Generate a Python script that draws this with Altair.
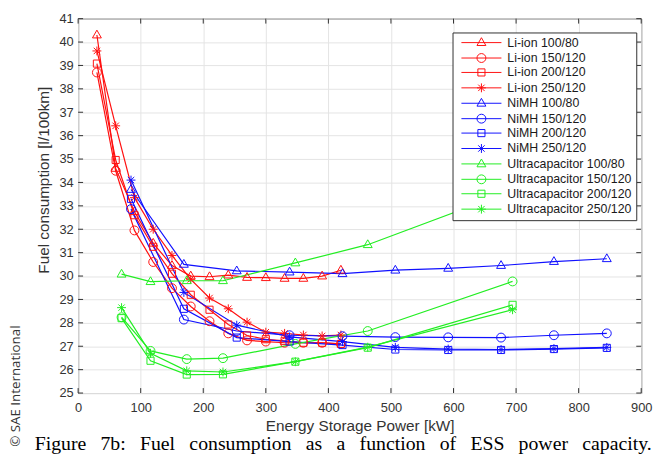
import altair as alt
import pandas as pd

# ---------------- data ----------------
series_names = [
    "Li-ion 100/80", "Li-ion 150/120", "Li-ion 200/120", "Li-ion 250/120",
    "NiMH 100/80", "NiMH 150/120", "NiMH 200/120", "NiMH 250/120",
    "Ultracapacitor 100/80", "Ultracapacitor 150/120", "Ultracapacitor 200/120", "Ultracapacitor 250/120",
]

li_x = [30, 60, 90, 120, 150, 180, 210, 240, 270, 300, 330, 360, 390, 420]
li_100_80 = [40.3, 34.6, 32.75, 31.4, 30.45, 30.0, 29.97, 30.04, 29.94, 29.93, 29.9, 29.9, 30.0, 30.25]
li_150_120 = [38.7, 34.5, 31.95, 30.6, 29.48, 28.7, 28.07, 27.55, 27.25, 27.2, 27.15, 27.15, 27.15, 27.1]
li_200_120 = [39.08, 34.96, 32.6, 31.25, 30.1, 29.2, 28.56, 27.93, 27.46, 27.3, 27.23, 27.15, 27.15, 27.1]
li_250_120 = [39.62, 36.42, 33.35, 32.0, 30.88, 29.86, 29.06, 28.6, 28.03, 27.6, 27.55, 27.48, 27.44, 27.48]

nimh_x = [84.5, 169, 253.5, 338, 422.5, 507, 591.5, 676, 760.5, 845]
nimh_100_80 = [33.7, 30.5, 30.22, 30.17, 30.1, 30.25, 30.33, 30.45, 30.62, 30.74]
nimh_150_120 = [32.86, 28.14, 27.65, 27.47, 27.43, 27.39, 27.38, 27.37, 27.47, 27.55]
nimh_200_120 = [33.3, 28.6, 27.37, 27.2, 27.05, 26.86, 26.84, 26.84, 26.88, 26.93]
nimh_250_120 = [34.1, 29.3, 27.9, 27.4, 27.2, 26.95, 26.88, 26.86, 26.9, 26.95]

uc_x = [69.4, 115.7, 173.6, 231.5, 347.2, 462.9, 694.4]
uc_100_80 = [30.08, 29.76, 29.8, 29.8, 30.56, 31.34, 33.65]
uc_150_120 = [28.24, 26.8, 26.45, 26.49, 27.1, 27.65, 29.77]
uc_200_120 = [28.2, 26.38, 25.79, 25.8, 26.34, 26.94, 28.77]
uc_250_120 = [28.65, 26.7, 25.95, 25.9, 26.34, 26.96, 28.56]

x_ticks = [0, 100, 200, 300, 400, 500, 600, 700, 800, 900]
y_ticks = list(range(25, 42))

caption_words = ["Figure", "7b:", "Fuel", "consumption", "as", "a", "function",
                 "of", "ESS", "power", "capacity."]

# ---------------- build table ----------------
groups = [
    (li_x, [li_100_80, li_150_120, li_200_120, li_250_120]),
    (nimh_x, [nimh_100_80, nimh_150_120, nimh_200_120, nimh_250_120]),
    (uc_x, [uc_100_80, uc_150_120, uc_200_120, uc_250_120]),
]
rows = []
k = 0
for xs, sets in groups:
    for ys in sets:
        for xv, yv in zip(xs, ys):
            rows.append({"series": series_names[k], "kW": xv, "val": yv})
        k += 1
df = pd.DataFrame(rows)

# ---------------- styles ----------------
RED, BLUE, GREEN = "#ff1010", "#1010ff", "#22ee22"
series_colors = [RED] * 4 + [BLUE] * 4 + [GREEN] * 4

TRI = "M0,-1.1L1,0.65L-1,0.65Z"
CIR = "M1,0A1,1,0,1,1,-1,0A1,1,0,1,1,1,0Z"
SQR = "M-0.8,-0.8L0.8,-0.8L0.8,0.8L-0.8,0.8Z"
STAR = "M0,-1L0,1M-1,0L1,0M-0.72,-0.72L0.72,0.72M-0.72,0.72L0.72,-0.72"
markers = [TRI, CIR, SQR, STAR] * 3
LINE = "M-4.5,0L4.5,0"
legend_markers = [LINE + m for m in markers]

FRAME = "#303030"
W, H = 570, 379

x_scale = alt.Scale(domain=[0, 900], nice=False, zero=False)
y_scale = alt.Scale(domain=[25, 41], nice=False, zero=False)
x_axis = alt.Axis(values=x_ticks, title="Energy Storage Power [kW]", grid=True,
                  ticks=False, domain=False, labelPadding=9, titlePadding=4,
                  labelFlush=False)
y_axis = alt.Axis(values=y_ticks, title="Fuel consumption [l/100km]", grid=True,
                  ticks=False, domain=False, labelPadding=5,
                  titleAngle=270, titleX=-35, titleY=163,
                  titleAlign="center", titleBaseline="middle", labelFlush=False)

X = alt.X("kW:Q", scale=x_scale, axis=x_axis)
Y = alt.Y("val:Q", scale=y_scale, axis=y_axis)
color_scale = alt.Scale(domain=series_names, range=series_colors)

lines = alt.Chart(df).mark_line(strokeWidth=1.2).encode(
    x=X, y=Y,
    color=alt.Color("series:N", scale=color_scale, legend=None),
)

points = alt.Chart(df).mark_point(filled=False, size=81, strokeWidth=1, opacity=1).encode(
    x=X, y=Y,
    color=alt.Color("series:N", scale=color_scale, legend=None),
    shape=alt.Shape("series:N", scale=alt.Scale(domain=series_names, range=markers), legend=None),
)

leg = alt.Legend(title=None, orient="none", legendX=379, legendY=14,
                 padding=4, fillColor="white", strokeColor=FRAME,
                 rowPadding=1.6, symbolOffset=19, labelOffset=20,
                 symbolSize=81, symbolStrokeWidth=1,
                 labelFont="Liberation Sans", labelFontSize=12.5, labelColor="#1a1a1a",
                 labelLimit=300)
legend_layer = alt.Chart(df).transform_filter("false").mark_point(
    filled=False, size=81, strokeWidth=1, opacity=1).encode(
    x=X, y=Y,
    color=alt.Color("series:N", scale=color_scale, legend=leg),
    shape=alt.Shape("series:N", scale=alt.Scale(domain=series_names, range=legend_markers), legend=leg),
)

# inward ticks on all four sides (through the scales)
xt = pd.DataFrame({"kW": x_ticks})
yt = pd.DataFrame({"val": y_ticks})
tick_len = 5
bottom_t = alt.Chart(xt).mark_rule(color=FRAME, strokeWidth=1).encode(
    x=X, y=alt.value(H), y2=alt.value(H - tick_len))
top_t = alt.Chart(xt).mark_rule(color=FRAME, strokeWidth=1).encode(
    x=X, y=alt.value(0), y2=alt.value(tick_len))
left_t = alt.Chart(yt).mark_rule(color=FRAME, strokeWidth=1).encode(
    y=Y, x=alt.value(0), x2=alt.value(tick_len))
right_t = alt.Chart(yt).mark_rule(color=FRAME, strokeWidth=1).encode(
    y=Y, x=alt.value(W), x2=alt.value(W - tick_len))

one = pd.DataFrame({"a": [0]})
# caption (justified word by word)
cap_x = [-44, 22.6, 62.6, 112.6, 230.5, 261.6, 284.9, 366, 397.1, 445.9, 510.3]
cap_layers = []
for w, cx in zip(caption_words, cap_x):
    cap_layers.append(
        alt.Chart(one).mark_text(text=w, font="Liberation Serif", fontSize=20,
                                 align="left", baseline="alphabetic", color="#000000")
        .encode(x=alt.value(cx), y=alt.value(437))
    )

copyright_t = alt.Chart(one).mark_text(
    text="\u00a9 SAE International", font="Open Sans", fontSize=13.5, angle=270,
    align="center", baseline="middle", color="#333333").encode(
    x=alt.value(-63), y=alt.value(372))

chart = alt.layer(
    lines, points, legend_layer, bottom_t, top_t, left_t, right_t, copyright_t, *cap_layers
).resolve_scale(color="independent", shape="independent").properties(
    width=W, height=H,
    autosize=alt.AutoSizeParams(type="none"),
    padding={"left": 71, "top": 8, "right": 17, "bottom": 65},
    background="white",
).configure_view(stroke=FRAME, strokeWidth=1).configure_axis(
    labelFont="Liberation Sans", labelFontSize=13, labelColor="#333333",
    titleFont="Liberation Sans", titleFontSize=15.5, titleColor="#333333",
    titleFontWeight="normal", gridColor="#e4e4e4", gridWidth=1,
)

chart.save("out.html", embed_options={"renderer": "svg", "actions": False})
